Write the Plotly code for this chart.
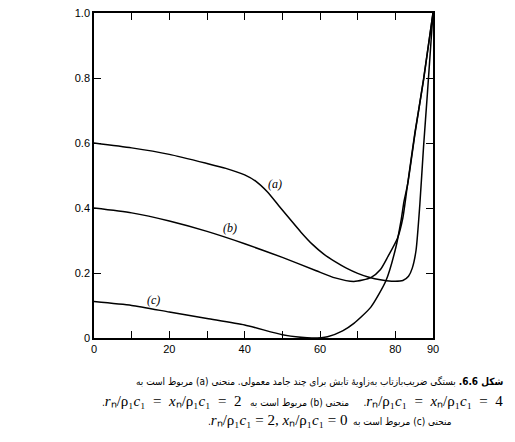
import plotly.graph_objects as go

# angle of incidence (degrees) and reflection coefficient
angle_a = [0, 10, 20, 30, 35, 40, 43, 46, 49, 52, 55, 58, 61, 64, 67, 70, 73, 76, 79, 82,
           83.5, 84.5, 85.5, 86.5, 87.5, 88.5, 90]
refl_a = [0.60, 0.585, 0.565, 0.537, 0.522, 0.502, 0.482, 0.45, 0.408, 0.366, 0.325, 0.288,
          0.258, 0.235, 0.215, 0.199, 0.187, 0.179, 0.175, 0.177, 0.19, 0.215, 0.27, 0.41,
          0.59, 0.75, 1.0]

angle_b = [0, 10, 20, 30, 40, 50, 59, 64, 69, 73.5, 76, 78, 80.6, 82, 83.1, 85.2, 87.5, 90]
refl_b = [0.40, 0.385, 0.36, 0.328, 0.29, 0.248, 0.207, 0.185, 0.174, 0.186, 0.21, 0.25,
          0.308, 0.37, 0.46, 0.632, 0.794, 1.0]

angle_c = [0, 10, 20, 30, 40, 50, 55, 58, 62, 66, 69, 73.5, 77.5, 80.1, 81.5, 82.3, 83.3, 85.3, 87.5, 90]
refl_c = [0.112, 0.10, 0.08, 0.06, 0.04, 0.01, 0.002, 0.0, 0.004, 0.022, 0.045, 0.095,
          0.176, 0.277, 0.36, 0.42, 0.475, 0.635, 0.797, 1.0]

x_ticks = [0, 10, 20, 30, 40, 50, 60, 70, 80, 90]
x_ticktext = ["0", "", "20", "", "40", "", "60", "", "80", "90"]
y_ticks = [0, 0.2, 0.4, 0.6, 0.8, 1.0]
y_ticktext = ["0", "0.2", "0.4", "0.6", "0.8", "1.0"]

curve_labels = [("(a)", 48.1, 0.474), ("(b)", 36.2, 0.34), ("(c)", 15.9, 0.118)]

# caption lines (Persian, right-to-left); the page body adds an 8px margin
RLE, PDF = "\u202b", "\u202c"


def math(s):
    return f"<span style='font-family:Liberation Serif;font-size:15px'>{s}</span>"


ratio = "<i>r</i>ₙ/ρ₁<i>c</i>₁"
xratio = "<i>x</i>ₙ/ρ₁<i>c</i>₁"
eq = "  =  "
caption = [
    ("<b>شکل 6.6.</b> بستگی ضریب‌بازتاب به‌زاویهٔ تابش برای چند جامد معمولی. منحنی (a) مربوط است به", 1.212, -0.134),
    (math(f"{ratio}{eq}{xratio}{eq}4") + ".     منحنی (b) مربوط است به   "
     + math(f"{ratio}{eq}{xratio}{eq}2") + ".", 1.212, -0.195),
    ("منحنی (c) مربوط است به  " + math(f"{ratio} = 2, {xratio} = 0") + ".", 1.062, -0.252),
]

fig = go.Figure()
for xs, ys in [(angle_a, refl_a), (angle_b, refl_b), (angle_c, refl_c)]:
    fig.add_trace(go.Scatter(
        x=xs, y=ys, mode="lines",
        line=dict(color="black", width=1.5, shape="spline", smoothing=0.6),
        showlegend=False, hoverinfo="skip",
    ))

for txt, x, y in curve_labels:
    fig.add_annotation(
        x=x, y=y, text=f"<i>{txt}</i>", showarrow=False,
        font=dict(family="Liberation Serif", size=12, color="black"),
    )

for txt, x, y in caption:
    fig.add_annotation(
        xref="paper", yref="paper", x=x, y=y, xanchor="right", yanchor="middle",
        text=RLE + txt + PDF, showarrow=False, align="right",
        font=dict(family="DejaVu Sans Condensed", size=10, color="black"),
    )

axis_style = dict(
    showline=True, linecolor="black", linewidth=1.5, mirror="ticks",
    ticks="inside", ticklen=7, tickwidth=1, tickcolor="black",
    showgrid=False, zeroline=False, automargin=False, ticklabeloverflow="allow",
    tickfont=dict(family="Liberation Sans", size=11, color="black"),
)

fig.update_layout(
    width=499, height=426,
    margin=dict(l=86, r=74, t=5, b=96),
    paper_bgcolor="white", plot_bgcolor="white",
    xaxis=dict(range=[0, 90], tickvals=x_ticks, ticktext=x_ticktext, **axis_style),
    yaxis=dict(range=[0, 1.0], tickvals=y_ticks, ticktext=y_ticktext, **axis_style),
)

fig.write_html("out.html")
